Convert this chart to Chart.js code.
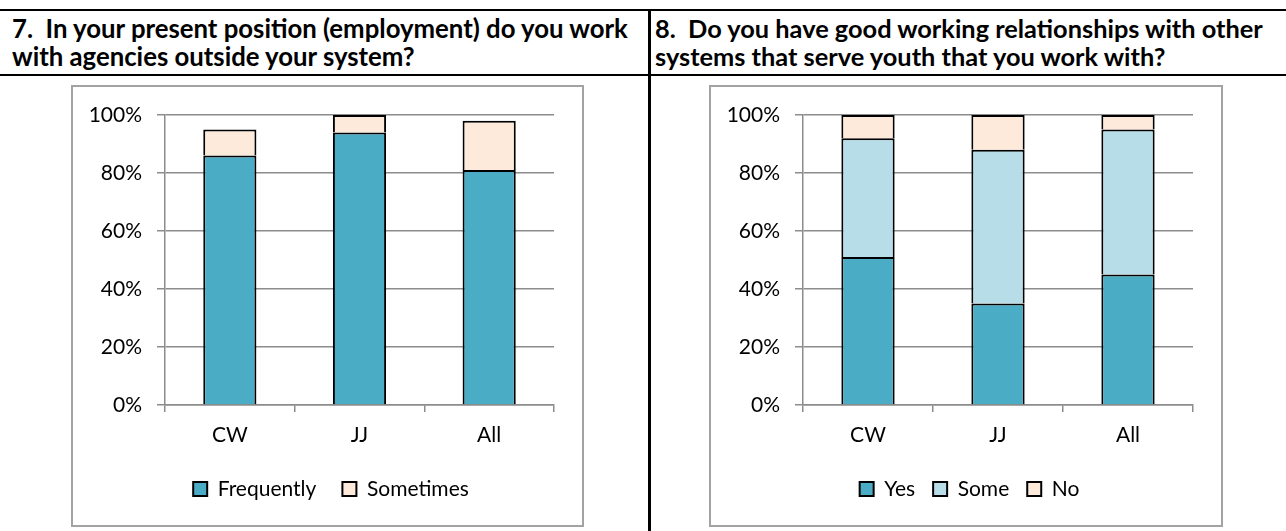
<!DOCTYPE html>
<html><head><meta charset="utf-8">
<script src="https://cdn.jsdelivr.net/npm/chart.js@4.4.0/dist/chart.umd.min.js"></script>
<style>
html,body{margin:0;padding:0;background:#fff;}
body{width:1286px;height:531px;position:relative;overflow:hidden;font-family:Lato,sans-serif;}
.hline{position:absolute;left:0;width:1286px;height:2px;background:#000;}
.vline{position:absolute;left:648px;top:9px;width:3px;height:522px;background:#000;}
.hdr{position:absolute;font-weight:700;font-size:19px;line-height:28px;color:#000;white-space:nowrap;}
.box{position:absolute;top:85px;height:442px;border:2px solid #a3a3a3;box-sizing:border-box;}
canvas{position:absolute;top:86px;}
</style>
</head><body>
<div class="hline" style="top:9px"></div>
<div class="hline" style="top:74px"></div>
<div class="vline"></div>
<div class="hdr" id="h1" style="left:12px;top:14px"><span id="h1a">7.&nbsp; In your present position (employment) do you work</span><br>with agencies outside your system?</div>
<div class="hdr" id="h2" style="left:655px;top:14px"><span id="h2a">8.&nbsp; Do you have good working relationships with other</span><br>systems that serve youth that you work with?</div>
<div class="box" style="left:71px;width:513px"></div>
<div class="box" style="left:709px;width:514px"></div>
<canvas id="c1" width="511" height="440" style="left:72px"></canvas>
<canvas id="c2" width="512" height="440" style="left:710px"></canvas>
<script>
// ---- data ----
const categories = ['CW', 'JJ', 'All'];
const q7Frequently = [86, 94, 81];
const q7Sometimes = [9, 6, 17];
const q8Yes = [51, 35, 45];
const q8Some = [41, 53, 50];
const q8No = [8, 12, 5];
const yTickValues = [0, 20, 40, 60, 80, 100];

// fit header width (Calibri substitute)
function fitHeader(id, spanId, target) {
  const el = document.getElementById(id);
  const w = document.getElementById(spanId).getBoundingClientRect().width;
  const fs = 19 * target / w;
  el.style.fontSize = fs.toFixed(2) + 'px';
}
fitHeader('h1', 'h1a', 616);
fitHeader('h2', 'h2a', 608);

const TEAL = '#4BACC6', LIGHT = '#B7DEE8', PEACH = '#FDEADA';
const GRID = '#8c8c8c';
const FONT = {family: 'Lato', size: 21};

const legendShift = {
  id: 'legendShift',
  afterLayout(chart, args, opts) {
    const lg = chart.legend;
    if (lg) { lg.left += opts.dx; lg.right += opts.dx; }
  }
};

function makeOptions(legendPad, padB, xH) {
  return {
    responsive: false,
    animation: false,
    devicePixelRatio: 1,
    layout: {padding: {left: 0, right: 29, top: 29, bottom: padB}},
    plugins: {
      tooltip: {enabled: false},
      legendShift: {dx: 18},
      legend: {
        position: 'bottom',
        labels: {boxWidth: 14, boxHeight: 14, padding: legendPad, color: '#000', font: FONT}
      }
    },
    scales: {
      x: {
        stacked: true,
        ticks: {color: '#000', font: FONT, padding: 11},
        grid: {display: true, drawOnChartArea: false, drawTicks: true, tickLength: 7, color: GRID, lineWidth: 1.5, offset: true},
        border: {display: true, color: GRID, width: 1.5},
        afterFit: s => { s.height = xH; }
      },
      y: {
        stacked: true, min: 0, max: 100,
        afterBuildTicks: s => { s.ticks = yTickValues.map(v => ({value: v})); },
        ticks: {color: '#000', font: FONT, padding: 15, callback: v => v + '%'},
        grid: {color: GRID, lineWidth: 1.5, tickLength: 8, drawTicks: true},
        border: {display: true, color: GRID, width: 1.5},
        afterFit: s => { s.width = 93; }
      }
    }
  };
}

function ds(label, data, color) {
  return {label, data, backgroundColor: color, borderColor: '#000', borderWidth: 2,
          borderSkipped: 'start', categoryPercentage: 1, barPercentage: 0.41};
}

new Chart(document.getElementById('c1'), {
  type: 'bar',
  data: {labels: categories, datasets: [ds('Frequently', q7Frequently, TEAL), ds('Sometimes', q7Sometimes, PEACH)]},
  options: makeOptions(26, 16.5, 47.5),
  plugins: [legendShift]
});
new Chart(document.getElementById('c2'), {
  type: 'bar',
  data: {labels: categories, datasets: [ds('Yes', q8Yes, TEAL), ds('Some', q8Some, LIGHT), ds('No', q8No, PEACH)]},
  options: makeOptions(18, 16.5, 55.5),
  plugins: [legendShift]
});
</script>
</body></html>
